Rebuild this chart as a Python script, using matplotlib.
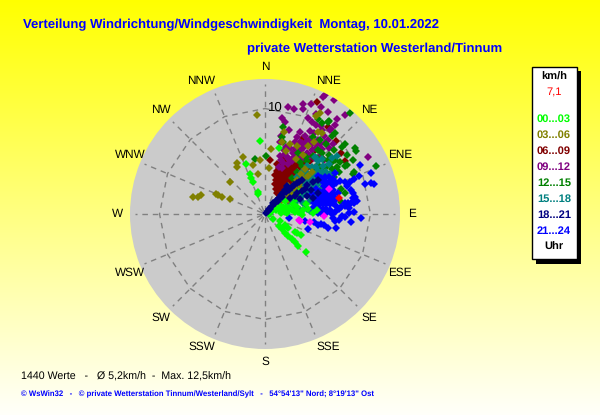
import numpy as np
import matplotlib
matplotlib.use('Agg')
from matplotlib import pyplot as plt
from matplotlib.patches import Rectangle

# wind vectors: (east, north) in km/h
h00_03 = [(-0.5,6.9),(1.3,6.2),(-1.8,4.7),(-1.4,3.8),(-1.3,3.4),(-1.1,3.0),(-0.7,2.1),(-0.7,1.9),
          (0.8,-0.5),(1.4,-0.7),(1.9,-1.0),(2.2,-1.3),(1.3,-1.1),(1.6,-1.4),(1.9,-1.8),(2.2,-2.1),
          (2.5,-2.4),(2.8,-2.6),(2.8,-1.7),(3.0,-1.8),(3.4,-2.0),(3.1,-3.0),(3.9,-3.6),
          (0.6,0.2),(1.0,0.4),(1.6,0.4),(1.9,0.2),(2.2,0.4),(2.5,0.4),(2.8,0.2),(3.1,0.2),(3.6,0.4),
          (4.1,0.5),(4.9,0.4),(1.4,0.8),(1.9,1.2),(0.7,0.6),(2.0,0.7),(2.6,0.9),
          (3.0,0.7),(0.4,0.0),(1.5,0.1),(3.2,2.1),(2.9,1.4),(1.3,0.5),(1.7,0.7),(2.3,0.6),(2.1,0.1),
          (3.4,0.1),(3.5,-0.05),(3.9,0.9),(4.5,0.1)]
h03_06 = [(-6.8,1.6),(-6.3,1.6),(-6.0,1.8),(-4.6,1.9),(-4.4,1.8),(-4.1,1.6),(-3.3,3.0),(-3.3,1.4),
          (-2.6,4.8),(-2.6,4.4),(-2.1,5.4),(-1.1,4.6),(-0.7,3.8),(-0.5,5.1),(0.6,6.1),(0.4,4.3),
          (-0.8,9.3),(5.2,9.5),(4.8,9.2),(1.8,7.7),(5.0,7.7),(5.4,7.6),(1.6,6.8),(2.4,6.6),(3.0,6.4),
          (3.6,5.6),(4.6,6.8),(1.0,0.8),(1.5,1.2),(2.0,1.7),(2.4,2.0),(2.8,2.4),(3.2,2.8),(3.6,3.3),
          (1.7,1.6),(2.6,2.6),(3.0,3.2),(3.4,3.8),(3.8,4.2),(2.2,2.6),(4.1,3.6),(4.4,4.0),
          (2.0,5.9),(2.9,5.2),(4.1,6.4),(2.2,1.3),(2.9,1.9),(3.4,2.4)]
h06_09 = [(4.9,10.6),(6.7,6.9),(7.2,5.8),(7.5,5.0),(0.5,5.1),(5.9,8.2),(4.3,6.9),(3.6,7.2),
          (1.1,2.0),(1.3,2.3),(1.5,2.6),(1.7,2.9),(1.9,3.2),(2.1,3.5),(2.3,3.8),(2.5,4.1),
          (1.2,2.7),(1.4,3.0),(1.6,3.3),(1.8,3.6),(2.0,3.9),(2.2,4.2),(2.4,4.5),(2.7,4.3),
          (1.0,3.2),(1.2,3.5),(1.4,3.8),(1.6,4.1),(1.8,4.4),(2.0,4.7),(2.9,3.6),(3.1,3.9),
          (2.2,2.9),(2.5,3.3),(2.7,3.0),(1.9,2.4),(1.6,2.1),(1.3,4.3),(1.1,4.7),(1.5,4.8),
          (2.6,5.1),(3.0,4.7),(3.3,4.4),(3.5,5.3),(4.2,5.0),(4.7,6.0),(2.8,5.9),(1.9,5.3),
          (1.0,2.4),(0.9,2.8),(0.9,3.7),(1.1,4.1),(1.7,3.9),(2.1,4.5),(2.6,3.7),(2.8,4.7),(3.3,3.5),
          (3.6,4.7),(4.0,4.3),(1.4,2.0),(2.4,3.0),(1.7,2.4),(2.3,3.3),(3.0,3.1)]
h09_12 = [(5.7,11.2),(6.5,10.8),(5.5,11.0),(3.6,10.4),(4.3,10.4),(2.2,10.1),(2.7,9.9),(3.6,9.9),
          (5.3,10.1),(5.9,9.6),(7.5,9.3),(6.8,9.0),(4.1,9.1),(4.8,9.4),(1.6,9.1),(1.9,8.7),(4.4,8.7),
          (4.8,8.4),(6.1,7.9),(6.2,8.0),(5.6,7.4),(2.3,7.9),(1.5,7.4),(1.4,6.8),(3.8,7.4),(4.2,7.1),
          (4.4,6.6),(3.3,6.8),(3.0,7.3),(3.8,6.5),(4.8,6.2),(1.4,5.5),(1.9,5.7),(2.3,5.2),(1.3,4.4),
          (1.7,4.8),(3.0,5.4),(4.2,5.5),(3.4,6.0),(9.7,5.4),(5.2,5.5),(5.6,5.1),(2.5,5.0),(3.5,5.2),
          (4.0,5.8),(2.6,5.8),(3.2,6.0),(5.0,7.0),(5.2,6.6),(6.0,6.2),(2.0,6.3),(2.8,6.8),(3.6,6.2),
          (4.6,7.6),(5.3,8.3),(1.8,6.0),(2.2,4.7),(1.6,4.3),(2.9,6.2),(3.1,5.7),(3.8,5.5),(4.4,6.0),
          (4.6,5.3),(5.4,6.1),(5.7,6.7),(2.4,6.2),(2.7,5.4),(3.5,6.7),(4.0,6.9),(4.8,6.6),(5.9,7.0),
          (6.4,6.6),(3.3,7.7),(4.2,7.8),(2.1,5.4),(1.5,5.1),(6.6,8.4),(5.4,7.9)]
h12_15 = [(8.0,9.5),(5.9,8.7),(5.4,8.6),(1.7,8.2),(1.6,7.3),(6.3,7.4),(6.6,7.6),(7.5,6.6),(7.3,6.3),
          (8.5,6.2),(8.6,5.9),(7.7,5.6),(8.3,5.1),(10.5,4.5),(8.4,4.0),(8.3,3.8),(7.5,4.5),(7.7,4.6),
          (3.1,5.8),(-0.9,5.2),(0.1,5.5),(1.7,6.8),(4.5,7.3),(5.8,6.6),(5.2,7.0),(5.0,9.0),(6.0,8.8),
          (3.0,4.0),(3.5,4.5),(4.0,5.0),(4.5,5.5),(5.0,6.0),(3.0,3.0),(4.0,3.8),(4.5,4.2),(5.0,4.6),
          (5.5,5.2),(6.0,5.6),(6.5,6.0),(6.8,4.4),(6.5,3.5),(7.0,4.0),(7.5,2.0),(7.2,1.1),(7.2,2.4),
          (2.5,3.4),(3.4,3.4),(6.2,4.8),(3.3,4.9),(3.9,5.4),(4.9,5.3),(5.4,5.8),(5.9,5.1),(6.6,5.1),
          (7.1,4.9),(3.7,3.2),(4.2,3.4),(4.8,3.8),(5.3,4.2),(5.8,4.4),(6.3,4.2),(2.9,2.6)]
h15_18 = [(2.0,1.5),(2.3,1.8),(2.6,2.0),(3.0,2.3),(3.3,2.6),(3.6,2.9),(4.0,3.2),(4.3,3.5),(4.6,3.8),
          (5.0,4.1),(3.0,1.3),(3.4,1.6),(3.8,1.9),(4.2,2.2),(4.6,2.5),(5.0,2.8),(2.5,1.0),(3.6,1.0),
          (4.2,1.2),(4.8,1.1),(5.5,3.5),(5.8,4.0),(5.5,4.5),(4.4,4.4),(5.0,5.0),(4.7,5.4),(2.8,1.0),
          (3.3,0.4),(2.7,0.4),(4.0,0.5),(3.0,3.5),(3.5,4.0),(4.0,4.5),(6.0,4.7),(6.3,5.3),(6.8,5.5),
          (3.8,0.9),(4.4,1.6),(5.2,3.2),(6.1,3.8),(2.2,1.2),(2.7,1.5),(3.2,1.9),(3.6,2.3),(4.0,2.6),
          (4.4,2.9),(4.8,3.2),(5.2,3.6),(5.4,4.0),(3.6,3.5),(4.0,3.9),(4.8,4.4),(5.4,5.2),(4.6,0.7),
          (5.0,1.5),(5.3,2.4),(4.2,0.3),(4.7,1.9)]
h18_21 = [(0.1,0.1),(0.3,0.3),(0.5,0.5),(0.7,0.8),(0.9,1.0),(1.1,1.3),(1.3,1.5),(1.5,1.8),(1.7,2.0),
          (1.9,2.3),(2.1,2.6),(1.0,1.2),(0.4,0.5),(0.8,1.0),(2.5,2.5),(3.0,2.9),(3.5,3.2),(4.0,2.7),
          (4.5,3.0),(3.0,2.0),(3.5,2.2),(4.0,1.7),(4.5,1.5),(5.0,2.0),(5.0,3.2),(2.4,1.5),
          (1.2,1.2),(1.6,1.6),(2.0,2.1),(2.3,2.3),(2.7,2.7),(3.2,3.0),(3.8,2.4),(4.3,2.3),(2.8,1.7),(3.3,1.4)]
h21_24 = [(9.1,-0.4),(8.1,-0.8),(6.7,-1.3),(5.9,-1.3),(5.6,-1.0),(5.3,-0.9),(5.0,-1.0),(4.6,-0.8),
          (4.1,-1.4),(3.8,-0.7),(2.3,-0.4),(6.4,-0.4),(6.6,-0.7),(7.0,-0.6),(7.5,-0.25),(7.9,0.1),
          (8.4,0.2),(6.6,0.2),(6.1,0.4),(5.3,0.1),(5.0,0.1),(4.4,0.5),(8.1,1.0),(8.4,1.0),(7.8,1.0),
          (7.5,1.0),(8.3,1.5),(8.3,2.0),(7.0,0.5),(6.7,0.8),(10.0,3.9),(9.4,2.8),(10.0,2.9),(10.3,2.8),
          (9.0,4.6),(8.4,3.3),(8.0,3.0),(7.5,3.0),(8.1,2.3),(8.5,1.6),(7.5,0.8),(7.2,0.7),
          (5.2,0.5),(5.5,0.4),(5.8,0.5),(5.2,0.9),(5.5,0.9),(5.8,0.9),(6.1,0.9),(6.4,1.0),(5.2,1.3),
          (5.5,1.3),(5.8,1.3),(6.1,1.3),(6.4,1.4),(6.7,1.4),(5.0,1.6),(5.3,1.7),(5.6,1.7),(5.9,1.8),
          (6.2,1.8),(6.5,1.9),(5.2,2.1),(5.5,2.1),(5.8,2.2),(6.1,2.2),(6.4,2.3),(5.6,2.6),(5.9,2.6),
          (6.2,2.7),(6.5,2.8),(5.5,3.0),(5.8,3.0),(6.1,3.1),(6.4,3.3),(6.7,2.9),(6.0,3.5),(6.6,3.9),
          (7.1,3.1),(4.8,0.7),(4.6,1.0),(7.7,2.6),(6.9,2.0),(4.8,2.4),(4.9,1.3),(5.0,3.6),(5.3,3.4),
          (5.7,3.5),(4.4,1.9),(7.9,0.6),(8.7,1.2),(5.8,0.1),(6.3,0.0),(7.3,-0.2),(8.9,3.6)]
andere = [(6.0,2.4),(5.6,-0.15),(3.2,-0.6),(3.3,-0.65),(4.2,-0.8)]
aktuell = [(7.0,1.5)]

richtungen = ['N','NNE','NE','ENE','E','ESE','SE','SSE','S','SSW','SW','WSW','W','WNW','NW','NNW']
# where the original puts the compass words, slightly off the true bearing
label_winkel = [0,25.7,45,66.3,90,113.7,135,154.6,180,205.4,225,246.3,270,293.7,315,334.3]
legend_labels = ['00...03','03...06','06...09','09...12','12...15','15...18','18...21','21...24']
legend_colors = ['#00ff00','#808000','#800000','#800080','#008000','#008080','#000080','#0000ff']

W, H = 600, 415
plt.rcParams['font.family'] = ['Liberation Sans', 'DejaVu Sans']
plt.rcParams['text.hinting'] = 'none'
fig = plt.figure(figsize=(W/100, H/100), dpi=100)

def ptext(x, y, s, **kw):
    fig.text(x/W, 1-y/H, s, va='center', **kw)

# yellow background running out to white at the bottom
bg = fig.add_axes([0, 0, 1, 1])
verlauf = np.ones((256, 1, 3))
verlauf[:, 0, 2] = np.linspace(0, 0.98, 256)
bg.imshow(verlauf, aspect='auto')
bg.axis('off')

ax = fig.add_axes([130/W, (H-349)/H, 270/W, 270/H], projection='polar')
ax.set_theta_zero_location('N')
ax.set_theta_direction(-1)
rmax = 135/10.6
ax.set_ylim(0, rmax)
ax.set_facecolor('#cbcbcb')
ax.spines['polar'].set_visible(False)
ax.grid(False)
ax.set_xticks([])
ax.set_yticks([])

winkel = np.radians(np.arange(16)*22.5)
grid_style = dict(color='#808080', lw=1.0, ls=(0, (4, 3.5)), zorder=1)
for w in winkel:
    ax.plot([w, w], [0.3, 12.3], **grid_style)
ax.plot(np.append(winkel, winkel[0]), [9.95]*17, **grid_style)

for w, name in zip(label_winkel, richtungen):
    ax.text(np.radians(w), 13.9, name, ha='center', va='center', fontsize=8.5, clip_on=False)
ax.text(np.radians(5.4), 10.05, '10', ha='center', va='center', fontsize=9.5)

def streuung(punkte, farbe, z):
    ost = np.array([p[0] for p in punkte])
    nord = np.array([p[1] for p in punkte])
    ax.plot(np.arctan2(ost, nord), np.hypot(ost, nord), ls='none', marker='D', ms=3.8,
            mfc=farbe, mec=farbe, mew=0, zorder=z)

serien = [h06_09, h09_12, h12_15, h15_18, h03_06, h21_24, h00_03, h18_21]
farben = ['#800000', '#800080', '#008000', '#008080', '#808000', '#0000ff', '#00ff00', '#000080']
for i, (punkte, farbe) in enumerate(zip(serien, farben)):
    streuung(punkte, farbe, 3+i)
streuung(andere, '#ff00ff', 12)
streuung(aktuell, '#ff0000', 13)

# titles
ptext(23, 25, 'Verteilung Windrichtung/Windgeschwindigkeit  Montag, 10.01.2022',
      color='#0000ff', fontsize=9.47, fontweight='bold')
ptext(247, 49, 'private Wetterstation Westerland/Tinnum',
      color='#0000ff', fontsize=9.47, fontweight='bold')

# legend box with its shadow
fig.add_artist(Rectangle((536/W, 1-264/H), 45/W, 193/H, transform=fig.transFigure, fc='black', ec='none'))
fig.add_artist(Rectangle((531.5/W, 1-259/H), 45/W, 192/H, transform=fig.transFigure, fc='white', ec='black', lw=1))
ptext(554, 76.5, 'km/h', ha='center', fontsize=8, fontweight='bold')
ptext(554, 92, '7,1', ha='center', fontsize=8, color='#ff0000')
for i, (lab, col) in enumerate(zip(legend_labels, legend_colors)):
    ptext(554, 119+16*i, lab, ha='center', fontsize=8, fontweight='bold', color=col)
ptext(554, 247, 'Uhr', ha='center', fontsize=8, fontweight='bold')

# footer
ptext(21, 377, '1440 Werte   -   Ø 5,2km/h  -  Max. 12,5km/h', fontsize=7.7)
ptext(21, 394, '© WsWin32   -   © private Wetterstation Tinnum/Westerland/Sylt   -   54°54\'13" Nord; 8°19\'13" Ost',
      color='#0000ff', fontsize=5.6, fontweight='bold')

fig.savefig('out.png', dpi=100)
